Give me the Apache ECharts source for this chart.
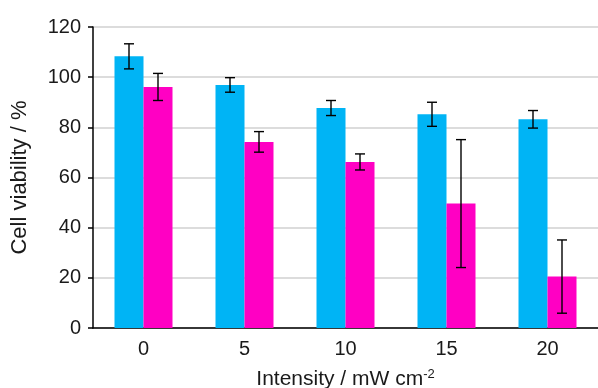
<!DOCTYPE html>
<html>
<head>
<meta charset="utf-8">
<script src="https://cdn.jsdelivr.net/npm/echarts@6/dist/echarts.min.js"></script>
<style>html,body{margin:0;padding:0;background:#fff}#c{width:598px;height:388px}</style>
</head>
<body>
<div id="c"></div>
<script>
var categories = ['0', '5', '10', '15', '20'];
var cyanValues = [108.3, 96.9, 87.7, 85.2, 83.2];
var cyanErrors = [5.0, 2.9, 3.0, 4.8, 3.5];
var magentaValues = [96.1, 74.2, 66.2, 49.6, 20.5];
var magentaErrors = [5.4, 4.1, 3.2, 25.5, 14.6];
var yTicks = [0, 20, 40, 60, 80, 100, 120];

var BAR_W = 29;
var FONT = 'Liberation Sans, Arial, sans-serif';

function errData(vals, errs) {
  return vals.map(function (v, i) { return [i, v - errs[i], v + errs[i]]; });
}
function errRender(offset) {
  return function (params, api) {
    var x = api.value(0);
    var lo = api.coord([x, api.value(1)]);
    var hi = api.coord([x, api.value(2)]);
    var cx = lo[0] + offset;
    var cap = 5;
    var st = { stroke: '#000', lineWidth: 1.4 };
    return {
      type: 'group',
      children: [
        { type: 'line', shape: { x1: cx, y1: lo[1], x2: cx, y2: hi[1] }, style: st },
        { type: 'line', shape: { x1: cx - cap, y1: lo[1], x2: cx + cap, y2: lo[1] }, style: st },
        { type: 'line', shape: { x1: cx - cap, y1: hi[1], x2: cx + cap, y2: hi[1] }, style: st }
      ]
    };
  };
}

var chart = echarts.init(document.getElementById('c'));
chart.setOption({
  animation: false,
  grid: { left: 93, right: 0, top: 27, bottom: 60, containLabel: false, outerBoundsMode: 'none' },
  xAxis: {
    type: 'category',
    data: categories,
    axisLine: { lineStyle: { color: '#000', width: 1.5 } },
    axisTick: { show: false },
    axisLabel: { color: '#1a1a1a', fontSize: 20, fontFamily: FONT, margin: 11 },
    name: 'Intensity / mW cm{sup|-2}',
    nameLocation: 'middle',
    nameGap: 40,
    nameTextStyle: {
      color: '#1a1a1a', fontSize: 21, fontFamily: FONT,
      rich: { sup: { fontSize: 13, fontFamily: FONT, color: '#1a1a1a', verticalAlign: 'top', padding: [0, 0, 10, 0] } }
    }
  },
  yAxis: {
    type: 'value',
    min: yTicks[0],
    max: yTicks[yTicks.length - 1],
    interval: 20,
    axisLine: { show: true, lineStyle: { color: '#000', width: 1.5 } },
    axisTick: { show: true, length: 5, lineStyle: { color: '#000', width: 1.5 } },
    axisLabel: { color: '#1a1a1a', fontSize: 20, fontFamily: FONT, margin: 12 },
    splitLine: { show: true, lineStyle: { color: '#dcdcdc', width: 2 } },
    name: 'Cell viability / %',
    nameLocation: 'middle',
    nameGap: 62,
    nameTextStyle: { color: '#1a1a1a', fontSize: 22, fontFamily: FONT }
  },
  series: [
    {
      type: 'bar', data: cyanValues, barWidth: BAR_W, barGap: '0%',
      itemStyle: { color: '#00B4F5' }
    },
    {
      type: 'bar', data: magentaValues, barWidth: BAR_W, barGap: '0%',
      itemStyle: { color: '#FF00C3' }
    },
    {
      type: 'custom', data: errData(cyanValues, cyanErrors),
      renderItem: errRender(-BAR_W / 2), encode: { x: 0, y: [1, 2] }, z: 10
    },
    {
      type: 'custom', data: errData(magentaValues, magentaErrors),
      renderItem: errRender(BAR_W / 2), encode: { x: 0, y: [1, 2] }, z: 10
    }
  ]
});
</script>
</body>
</html>
